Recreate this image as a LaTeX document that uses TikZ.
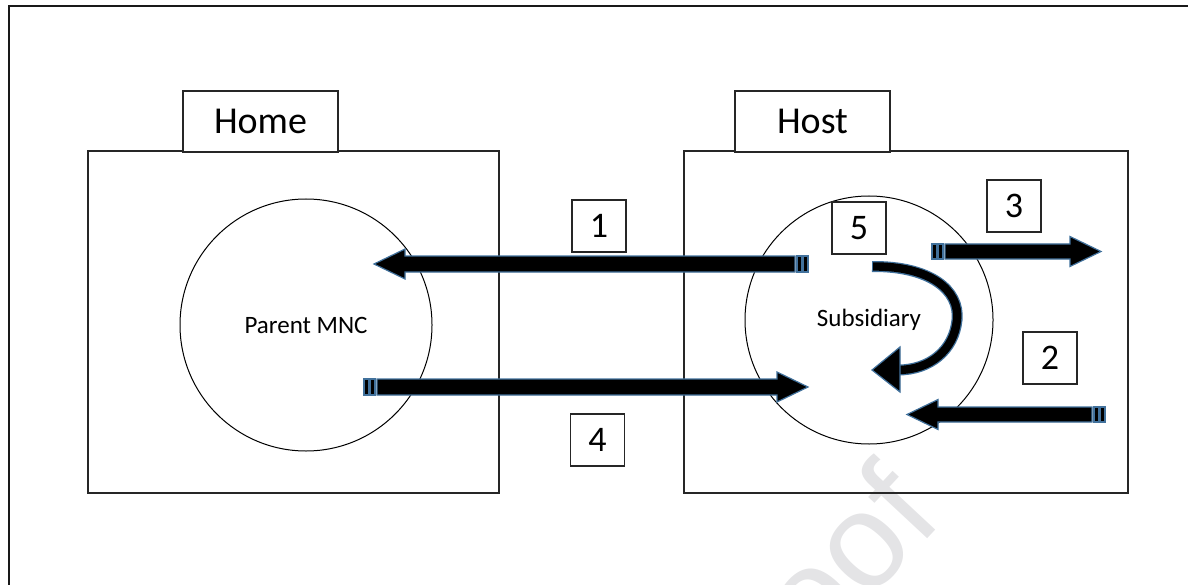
\documentclass[tikz,border=0pt]{standalone}
\usepackage{fontspec}
\setmainfont{Carlito}
\newfontfamily\wmfont{Liberation Sans}
\definecolor{arrowedge}{HTML}{41719C}
\definecolor{wmgrey}{HTML}{E4E4E6}
\tikzset{
  frameline/.style={line width=2pt, black!90},
  tabbox/.style={draw=black!85, line width=1.4pt, fill=white, minimum width=155pt, minimum height=61pt, inner sep=0pt, font=\fontsize{38}{44}\selectfont},
  bigbox/.style={draw=black!85, line width=1.4pt, minimum height=342pt, inner sep=0pt},
  firm/.style={draw=black, line width=1pt, circle, inner sep=0pt, font=\fontsize{25}{30}\selectfont},
  numbox/.style={draw=black!85, line width=1.2pt, fill=white, minimum width=54pt, minimum height=52pt, inner sep=0pt, font=\fontsize{36}{40}\selectfont},
  barrow/.style={fill=black, draw=arrowedge, line width=1.2pt, line join=miter},
  watermark/.style={text=wmgrey, font=\wmfont\fontsize{135}{140}\selectfont, rotate=47, inner sep=0pt}
}
\newcommand{\blockarrow}[4]{%
  \pgfmathsetmacro{\bad}{#2>#1 ? 1 : -1}%
  \pgfmathsetmacro{\bal}{abs(#2-#1)}%
  \begin{scope}[shift={(#1,#3)}, xscale=\bad]
    \filldraw[barrow] (13,-#4) -- (\bal-31,-#4) -- (\bal-31,-15) -- (\bal,0) -- (\bal-31,15) -- (\bal-31,#4) -- (13,#4) -- cycle;
    \filldraw[barrow] (0,-#4) rectangle (5,#4);
    \filldraw[barrow] (6.5,-#4) rectangle (11,#4);
  \end{scope}}
\begin{document}
\begin{tikzpicture}[x=1pt,y=-1pt]
\useasboundingbox (0,0) rectangle (1190,585);
% watermark
\node[watermark, anchor=base east] (wm) at (945,520) {Journal Pre-proof};
% outer frame
\draw[frameline] (9,585) -- (9,6) -- (1188,6);
% boxes
\node[bigbox, minimum width=411pt] (homebox) at (293.5,322) {};
\node[bigbox, minimum width=444pt] (hostbox) at (906,322) {};
\node[tabbox] (hometab) at (260.5,121.5) {Home};
\node[tabbox] (hosttab) at (812.5,121.5) {Host};
% circles
\node[firm, minimum size=252pt] (parent) at (306,325) {Parent MNC};
\node[firm, minimum size=248pt] (sub) at (869,320) {Subsidiary};
% arrows
\blockarrow{808}{374}{264}{8}
\blockarrow{364}{808}{387}{8}
\blockarrow{932}{1101}{251.5}{7.5}
\blockarrow{1105}{907}{414.5}{7.5}
% curved arrow 5
\draw[arrowedge, line width=11pt] (872,266.5) .. controls (930,266) and (960,290) .. (957,320) .. controls (954,350) and (930,370) .. (898,370);
\draw[black, line width=8.4pt] (873.2,266.5) .. controls (930,266) and (960,290) .. (957,320) .. controls (954,350) and (930,370) .. (898,370);
\filldraw[barrow] (900,347) -- (872,370) -- (900,392) -- cycle;
% number labels
\node[numbox] (n1) at (599,226) {1};
\node[numbox] (n5) at (859,228) {5};
\node[numbox] (n3) at (1014,206) {3};
\node[numbox] (n2) at (1050,358) {2};
\node[numbox] (n4) at (597.5,440) {4};
\end{tikzpicture}
\end{document}
